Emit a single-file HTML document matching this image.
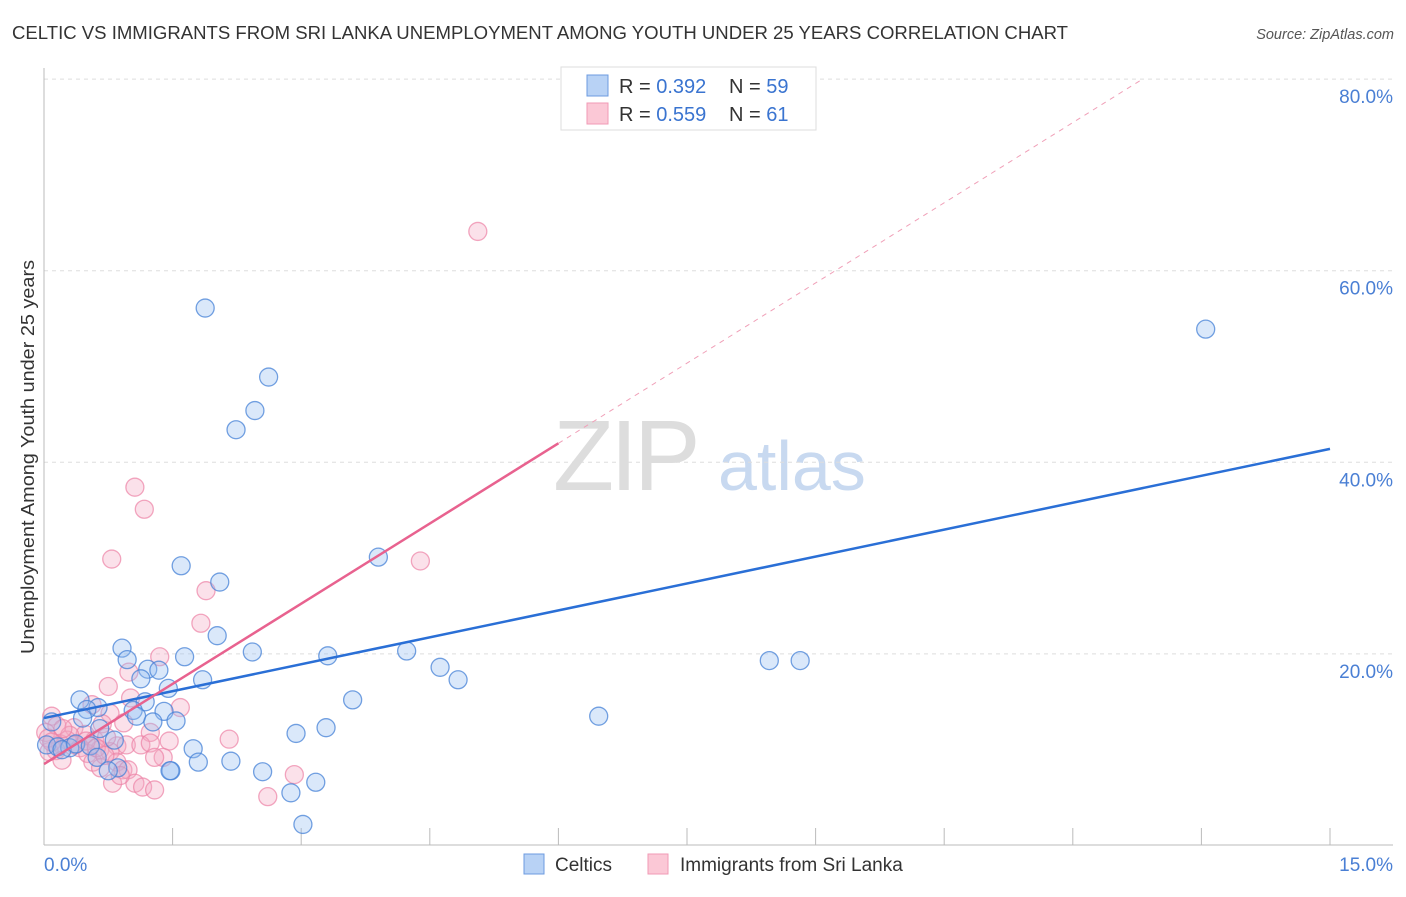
<!DOCTYPE html>
<html><head><meta charset="utf-8"><style>
body{margin:0;background:#fff;font-family:"Liberation Sans",sans-serif;}
svg text{font-family:"Liberation Sans",sans-serif;}
</style></head><body>
<svg id="chart" width="1406" height="892" xmlns="http://www.w3.org/2000/svg">
<text x="12" y="39" font-size="18" fill="#333" textLength="1056" lengthAdjust="spacingAndGlyphs">CELTIC VS IMMIGRANTS FROM SRI LANKA UNEMPLOYMENT AMONG YOUTH UNDER 25 YEARS CORRELATION CHART</text>
<text x="1394" y="39" font-size="14.5" fill="#555" font-style="italic" text-anchor="end">Source: ZipAtlas.com</text>
<g>
<text x="553" y="490" font-size="100" fill="#ddd" font-family="Liberation Serif" letter-spacing="-4">ZIP</text>
<text x="718" y="490" font-size="70" fill="#c8d9f0">atlas</text>
</g>
<g id="grid"></g>
<g id="axes"></g>
<g id="marks"></g>
<text transform="translate(34,457) rotate(-90)" font-size="18" fill="#333" text-anchor="middle" textLength="394" lengthAdjust="spacingAndGlyphs">Unemployment Among Youth under 25 years</text>
<g>
<rect x="561" y="67" width="255" height="63" fill="#fff" stroke="#ddd"/>
<rect x="587" y="75" width="21" height="21" fill="#b8d2f5" stroke="#6c9be0"/>
<rect x="587" y="103" width="21" height="21" fill="#fbc8d6" stroke="#f09ab5"/>
<text x="619" y="93" font-size="20" fill="#333">R = <tspan fill="#3a74d0">0.392</tspan></text>
<text x="729" y="93" font-size="20" fill="#333">N = <tspan fill="#3a74d0">59</tspan></text>
<text x="619" y="121" font-size="20" fill="#333">R = <tspan fill="#3a74d0">0.559</tspan></text>
<text x="729" y="121" font-size="20" fill="#333">N = <tspan fill="#3a74d0"> 61</tspan></text>
</g>
<g>
<rect x="524" y="854" width="20" height="20" fill="#b8d2f5" stroke="#6c9be0"/>
<text x="555" y="871" font-size="19" fill="#333">Celtics</text>
<rect x="648" y="854" width="20" height="20" fill="#fbc8d6" stroke="#f09ab5"/>
<text x="680" y="871" font-size="19" fill="#333">Immigrants from Sri Lanka</text>
</g>
</svg>
<script>
const xTicks=[0,1.5,3,4.5,6,7.5,9,10.5,12,13.5,15];
const yTicks=[20,40,60,80];
const yTickLabels=["20.0%","40.0%","60.0%","80.0%"];
const xEndLabels=["0.0%","15.0%"];
const celticX=[1.88,2.62,2.46,2.24,13.55,3.90,1.60,2.05,2.02,0.91,2.43,0.97,1.64,3.31,4.23,1.21,1.34,4.62,4.83,8.46,8.82,1.13,1.45,1.85,0.42,1.18,3.60,0.63,0.50,1.04,1.08,1.40,6.47,0.45,1.27,1.54,0.09,0.65,3.29,2.94,0.82,1.74,0.03,0.16,0.30,0.21,0.37,0.54,0.62,1.80,2.18,0.86,0.75,1.48,2.55,2.88,3.17,3.02,1.47];
const celticY=[56.1,48.9,45.4,43.4,53.9,30.1,29.2,27.5,21.9,20.6,20.2,19.4,19.7,19.8,20.3,18.4,18.3,18.6,17.3,19.3,19.3,17.4,16.4,17.3,15.2,15.0,15.2,14.4,14.2,14.1,13.5,14.0,13.5,13.3,12.9,13.0,12.9,12.2,12.3,11.7,11.0,10.1,10.5,10.3,10.2,10.0,10.6,10.4,9.2,8.7,8.8,8.1,7.8,7.8,7.7,5.5,6.6,2.2,7.8];
const sriX=[5.06,1.06,1.17,0.79,4.39,1.89,1.83,1.35,0.99,0.75,1.01,0.56,1.59,0.09,0.77,0.93,0.15,0.35,0.68,0.48,0.02,1.24,0.59,0.27,0.19,0.85,0.96,1.13,1.24,1.46,2.16,0.42,0.65,0.14,0.51,0.77,0.06,1.39,1.29,0.57,0.85,0.66,0.92,0.98,1.06,0.80,1.15,1.29,2.61,2.92,0.73,0.30,0.22,0.05,0.36,0.49,0.61,0.21,0.71,0.09,0.89];
const sriY=[64.1,37.4,35.1,29.9,29.7,26.6,23.2,19.7,18.1,16.6,15.4,14.7,14.4,13.5,13.8,12.8,12.5,12.3,12.7,11.6,11.8,11.8,11.0,11.0,10.6,10.4,10.5,10.5,10.7,10.9,11.1,10.2,10.0,9.9,9.6,9.8,9.8,9.2,9.2,8.7,8.7,8.1,7.9,7.9,6.5,6.5,6.1,5.8,5.1,7.4,11.3,11.5,12.2,11.2,10.5,10.9,10.2,8.9,9.4,10.8,7.3];
const celticTrend=[13.3,41.4];
const sriTrend=[8.5,5.58];
const NS="http://www.w3.org/2000/svg";
const X=v=>44+v/15*1286;
const Y=v=>845.5-v/20*191.6;
function mk(tag,attrs,parent){const e=document.createElementNS(NS,tag);for(const k in attrs)e.setAttribute(k,attrs[k]);document.getElementById(parent).appendChild(e);return e;}
yTicks.forEach((t,i)=>{
 const g=mk('line',{x1:44,x2:1393,y1:Y(t),y2:Y(t),stroke:'#ddd','stroke-dasharray':'4,4'},'grid');
 
 
 const l=mk('text',{x:1393,y:Y(t)+24,'font-size':19,fill:'#4a7fd4','text-anchor':'end'},'axes');
 l.textContent=yTickLabels[i];
 
 
});
const ax=mk('line',{x1:44,x2:44,y1:68,y2:845,stroke:'#bbb'},'axes');


const bx=mk('line',{x1:44,x2:1393,y1:845,y2:845,stroke:'#bbb'},'axes');


xTicks.forEach(t=>{
 const tk=mk('line',{x1:X(t),x2:X(t),y1:828,y2:845,stroke:'#bbb'},'axes');
 
 
});
const l0=mk('text',{x:44,y:871,'font-size':19,fill:'#4a7fd4'},'axes');l0.textContent=xEndLabels[0];


const l1=mk('text',{x:1393,y:871,'font-size':19,fill:'#4a7fd4','text-anchor':'end'},'axes');l1.textContent=xEndLabels[1];


sriX.forEach((x,i)=>{
 const c=mk('circle',{cx:X(x),cy:Y(sriY[i]),r:9,fill:'rgba(244,170,195,0.35)',stroke:'rgba(236,130,165,0.7)','stroke-width':1.3},'marks');
 
 
});
celticX.forEach((x,i)=>{
 const c=mk('circle',{cx:X(x),cy:Y(celticY[i]),r:9,fill:'rgba(150,190,240,0.35)',stroke:'rgba(70,130,215,0.75)','stroke-width':1.3},'marks');
 
 
});
const bt=mk('line',{x1:X(0),y1:Y(celticTrend[0]),x2:X(15),y2:Y(celticTrend[1]),stroke:'#2a6fd6','stroke-width':2.5},'marks');


const pt=mk('line',{x1:X(0),y1:Y(sriTrend[0]),x2:X(6),y2:Y(sriTrend[0]+6*sriTrend[1]),stroke:'#e8628f','stroke-width':2.5},'marks');


const xe=(80-sriTrend[0])/sriTrend[1];
const pd=mk('line',{x1:X(6),y1:Y(sriTrend[0]+6*sriTrend[1]),x2:X(xe),y2:Y(80),stroke:'#f0a0b8','stroke-width':1,'stroke-dasharray':'5,5'},'marks');


</script>
</body></html>
